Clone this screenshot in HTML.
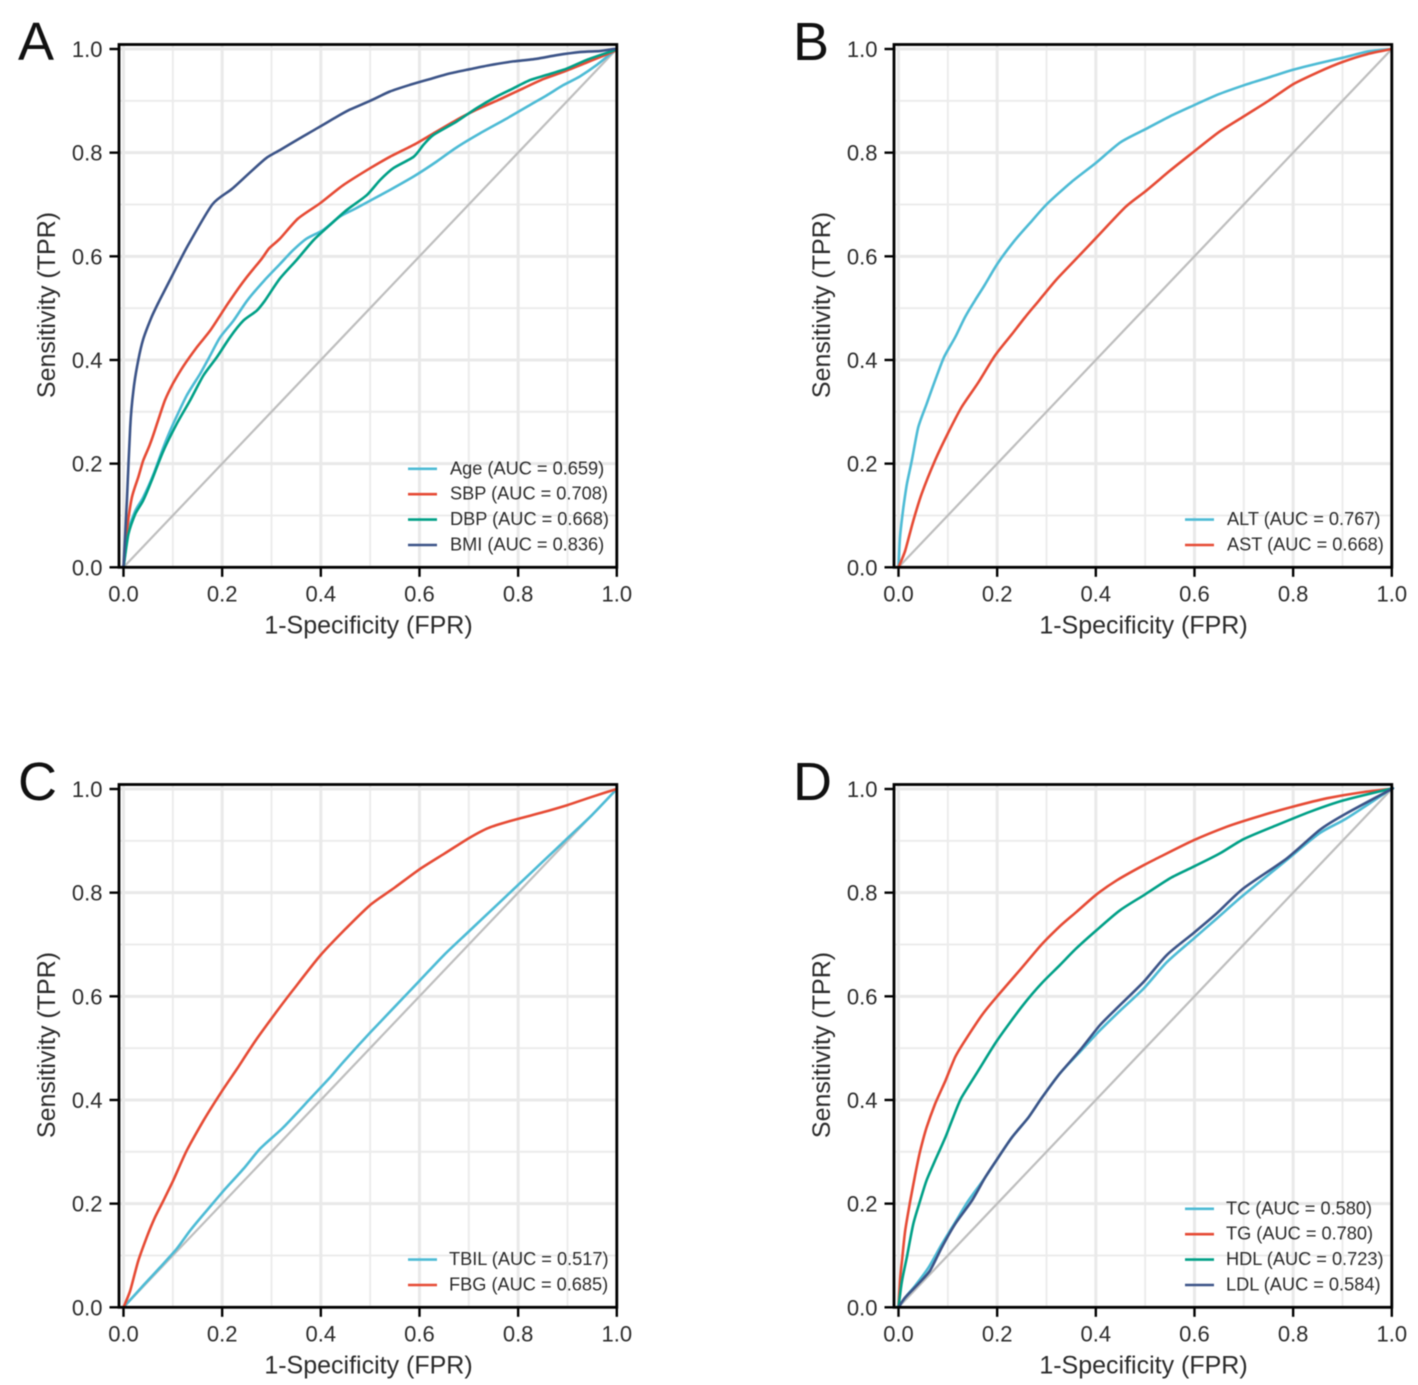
<!DOCTYPE html>
<html lang="en">
<head>
<meta charset="utf-8">
<title>ROC curves</title>
<style>
html,body{margin:0;padding:0;background:#fff;width:1418px;height:1385px;overflow:hidden}
svg{display:block;font-family:"Liberation Sans",Arial,sans-serif;filter:blur(0.45px)}
</style>
</head>
<body>
<svg id="chart" width="1418" height="1385" viewBox="0 0 1418 1385" xmlns="http://www.w3.org/2000/svg"></svg>
<script>
const tickValues = [0, 0.2, 0.4, 0.6, 0.8, 1];
const tickLabels = ['0.0', '0.2', '0.4', '0.6', '0.8', '1.0'];
const minorValues = [0.1, 0.3, 0.5, 0.7, 0.9];

const ageFpr = [0,0.01,0.024,0.04,0.061,0.081,0.101,0.128,0.155,0.176,0.196,0.223,0.251,0.285,0.317,0.344,0.371,0.405,0.439,0.472,0.54,0.588,0.635,0.675,0.722,0.777,0.824,0.857,0.891,0.925,0.959,0.993,1];
const ageTpr = [0,0.071,0.109,0.135,0.18,0.232,0.277,0.331,0.373,0.409,0.444,0.476,0.515,0.553,0.585,0.612,0.634,0.651,0.677,0.693,0.728,0.754,0.783,0.81,0.837,0.866,0.892,0.91,0.93,0.947,0.969,0.995,1];
const sbpFpr = [0,0.0068,0.017,0.03,0.04,0.054,0.068,0.084,0.1,0.122,0.149,0.176,0.2,0.216,0.25,0.28,0.295,0.317,0.354,0.398,0.445,0.5,0.54,0.588,0.628,0.675,0.716,0.763,0.81,0.851,0.892,0.939,0.993,1];
const sbpTpr = [0,0.071,0.135,0.174,0.206,0.238,0.277,0.322,0.354,0.389,0.425,0.457,0.492,0.515,0.56,0.595,0.615,0.634,0.673,0.702,0.737,0.77,0.792,0.815,0.837,0.863,0.883,0.903,0.924,0.942,0.956,0.974,0.995,1];
const dbpFpr = [0,0.01,0.024,0.04,0.057,0.081,0.108,0.135,0.162,0.189,0.216,0.243,0.27,0.287,0.317,0.35,0.385,0.418,0.452,0.493,0.52,0.547,0.588,0.608,0.628,0.675,0.716,0.756,0.79,0.824,0.858,0.898,0.939,0.993,1];
const dbpTpr = [0,0.064,0.103,0.129,0.167,0.225,0.277,0.322,0.37,0.405,0.444,0.476,0.495,0.515,0.557,0.592,0.631,0.66,0.689,0.718,0.747,0.77,0.792,0.815,0.834,0.86,0.886,0.908,0.924,0.94,0.95,0.962,0.979,0.997,1];
const bmiFpr = [0,0.0034,0.0068,0.0135,0.02,0.03,0.04,0.057,0.073,0.1,0.13,0.18,0.22,0.26,0.29,0.317,0.358,0.398,0.432,0.459,0.5,0.54,0.581,0.621,0.662,0.702,0.743,0.79,0.837,0.878,0.925,0.965,0.993,1];
const bmiTpr = [0,0.064,0.129,0.27,0.341,0.4,0.44,0.483,0.515,0.565,0.62,0.7,0.73,0.765,0.79,0.805,0.828,0.85,0.869,0.883,0.9,0.918,0.931,0.942,0.953,0.961,0.969,0.976,0.981,0.988,0.994,0.996,1,1];

const altFpr = [0,0.003,0.01,0.017,0.027,0.04,0.057,0.074,0.092,0.115,0.135,0.155,0.175,0.2,0.235,0.27,0.3,0.35,0.4,0.45,0.5,0.55,0.6,0.65,0.7,0.75,0.8,0.85,0.9,0.95,1];
const altTpr = [0,0.058,0.116,0.161,0.206,0.27,0.315,0.36,0.405,0.444,0.483,0.515,0.545,0.585,0.63,0.668,0.7,0.743,0.78,0.82,0.845,0.87,0.892,0.913,0.93,0.945,0.96,0.972,0.983,0.995,1];
const astFpr = [0,0.0135,0.03,0.047,0.074,0.101,0.128,0.162,0.196,0.23,0.257,0.285,0.32,0.36,0.4,0.46,0.5,0.55,0.6,0.65,0.7,0.75,0.8,0.85,0.9,0.95,1];
const astTpr = [0,0.032,0.09,0.142,0.206,0.26,0.309,0.357,0.409,0.45,0.483,0.515,0.555,0.595,0.635,0.695,0.725,0.765,0.803,0.84,0.87,0.9,0.932,0.955,0.975,0.99,1];

const tbilFpr = [0,0.04,0.074,0.108,0.135,0.169,0.203,0.243,0.277,0.324,0.378,0.42,0.45,0.5,0.55,0.6,0.65,0.7,0.75,0.8,0.85,0.9,0.95,1];
const tbilTpr = [0,0.042,0.077,0.113,0.148,0.187,0.225,0.267,0.306,0.347,0.402,0.445,0.478,0.53,0.58,0.63,0.68,0.725,0.77,0.815,0.86,0.905,0.95,1];
const fbgFpr = [0,0.0135,0.03,0.047,0.064,0.081,0.101,0.128,0.162,0.196,0.23,0.268,0.31,0.35,0.4,0.45,0.5,0.55,0.6,0.65,0.7,0.74,0.783,0.85,0.9,0.95,1];
const fbgTpr = [0,0.032,0.09,0.135,0.174,0.206,0.245,0.302,0.36,0.412,0.46,0.515,0.57,0.62,0.68,0.73,0.776,0.81,0.845,0.875,0.905,0.925,0.938,0.955,0.969,0.985,1];

const tcFpr = [0,0.0135,0.034,0.061,0.088,0.115,0.142,0.176,0.2,0.23,0.264,0.291,0.327,0.368,0.408,0.449,0.497,0.544,0.598,0.645,0.699,0.787,0.854,0.908,0.996,1];
const tcTpr = [0,0.019,0.042,0.077,0.122,0.164,0.206,0.251,0.286,0.328,0.367,0.405,0.451,0.493,0.534,0.572,0.615,0.666,0.711,0.75,0.795,0.863,0.915,0.943,0.998,1];
const tgFpr = [0,0.003,0.007,0.0135,0.024,0.034,0.044,0.057,0.074,0.095,0.115,0.135,0.17,0.2,0.25,0.29,0.327,0.361,0.402,0.443,0.497,0.53,0.598,0.665,0.733,0.8,0.868,0.935,0.996,1];
const tgTpr = [0,0.051,0.09,0.148,0.206,0.257,0.302,0.347,0.392,0.437,0.483,0.515,0.565,0.6,0.655,0.7,0.735,0.763,0.797,0.824,0.853,0.869,0.901,0.927,0.948,0.966,0.982,0.993,1,1];
const hdlFpr = [0,0.007,0.017,0.03,0.044,0.057,0.074,0.095,0.111,0.128,0.162,0.2,0.25,0.29,0.327,0.361,0.402,0.449,0.497,0.551,0.598,0.652,0.699,0.766,0.834,0.902,0.996,1];
const hdlTpr = [0,0.051,0.097,0.161,0.206,0.245,0.283,0.328,0.367,0.405,0.457,0.515,0.58,0.625,0.66,0.693,0.728,0.766,0.795,0.828,0.85,0.876,0.903,0.93,0.956,0.978,1,1];
const ldlFpr = [0,0.0135,0.04,0.064,0.088,0.115,0.149,0.176,0.2,0.23,0.264,0.291,0.327,0.368,0.408,0.449,0.497,0.544,0.598,0.645,0.699,0.787,0.854,0.908,0.996,1];
const ldlTpr = [0,0.019,0.045,0.071,0.116,0.161,0.206,0.251,0.286,0.328,0.367,0.405,0.451,0.496,0.544,0.583,0.628,0.68,0.722,0.76,0.808,0.866,0.921,0.953,0.998,1];

const panelALabels = ['Age (AUC = 0.659)', 'SBP (AUC = 0.708)', 'DBP (AUC = 0.668)', 'BMI (AUC = 0.836)'];
const panelBLabels = ['ALT (AUC = 0.767)', 'AST (AUC = 0.668)'];
const panelCLabels = ['TBIL (AUC = 0.517)', 'FBG (AUC = 0.685)'];
const panelDLabels = ['TC (AUC = 0.580)', 'TG (AUC = 0.780)', 'HDL (AUC = 0.723)', 'LDL (AUC = 0.584)'];
const seriesColors = ['#4DBBD5', '#E64B35', '#00A087', '#3C5488'];

const panels = [
  {id:'A', ox:0, oy:0, swatchDx:0, textDx:0, labels:panelALabels, fprs:[ageFpr,sbpFpr,dbpFpr,bmiFpr], tprs:[ageTpr,sbpTpr,dbpTpr,bmiTpr]},
  {id:'B', ox:775, oy:0, swatchDx:2, textDx:2, labels:panelBLabels, fprs:[altFpr,astFpr], tprs:[altTpr,astTpr]},
  {id:'C', ox:0, oy:740, swatchDx:0, textDx:-1, labels:panelCLabels, fprs:[tbilFpr,fbgFpr], tprs:[tbilTpr,fbgTpr]},
  {id:'D', ox:775, oy:740, swatchDx:2, textDx:1, labels:panelDLabels, fprs:[tcFpr,tgFpr,hdlFpr,ldlFpr], tprs:[tcTpr,tgTpr,hdlTpr,ldlTpr]}
];

const svg = document.getElementById('chart');
const NS = 'http://www.w3.org/2000/svg';

function make(parent, tag, attrs, text) {
  const el = document.createElementNS(NS, tag);
  for (const k in attrs) el.setAttribute(k, attrs[k]);
  if (text !== undefined) el.textContent = text;
  parent.appendChild(el);
  return el;
}

function smoothPath(pts) {
  const k = 0.12;
  let d = 'M' + pts[0][0].toFixed(1) + ' ' + pts[0][1].toFixed(1);
  for (let i = 0; i < pts.length - 1; i++) {
    const a = pts[Math.max(i - 1, 0)], b = pts[i], c = pts[i + 1], e = pts[Math.min(i + 2, pts.length - 1)];
    const c1x = b[0] + (c[0] - a[0]) * k, c1y = b[1] + (c[1] - a[1]) * k;
    const c2x = c[0] - (e[0] - b[0]) * k, c2y = c[1] - (e[1] - b[1]) * k;
    d += 'C' + c1x.toFixed(1) + ' ' + c1y.toFixed(1) + ' ' + c2x.toFixed(1) + ' ' + c2y.toFixed(1) + ' ' + c[0].toFixed(1) + ' ' + c[1].toFixed(1);
  }
  return d;
}

panels.forEach(function (p) {
  const xScale = function (v) { return p.ox + 123.5 + v * 493.3; };
  const yScale = function (v) { return p.oy + 567.3 - v * 518.3; };
  const left = p.ox + 119, top = p.oy + 44.5, right = xScale(1), bottom = yScale(0);

  const g = make(svg, 'g', {});
  
  

  const letter = make(g, 'text', {x: p.ox + 18, y: p.oy + 60, 'font-size': 54, fill: '#111'}, p.id);
  
  

  minorValues.forEach(function (v) {
    const gx = make(g, 'line', {x1: xScale(v), x2: xScale(v), y1: top, y2: bottom, stroke: '#ececec', 'stroke-width': 2});
    
    
    const gy = make(g, 'line', {x1: left, x2: right, y1: yScale(v), y2: yScale(v), stroke: '#ececec', 'stroke-width': 2});
    
    
  });
  tickValues.forEach(function (v) {
    const gx = make(g, 'line', {x1: xScale(v), x2: xScale(v), y1: top, y2: bottom, stroke: '#e9e9e9', 'stroke-width': 3});
    
    
    const gy = make(g, 'line', {x1: left, x2: right, y1: yScale(v), y2: yScale(v), stroke: '#e9e9e9', 'stroke-width': 3});
    
    
  });

  const diag = make(g, 'line', {x1: xScale(0), y1: yScale(0), x2: xScale(1), y2: yScale(1), stroke: '#bebebe', 'stroke-width': 2.2});
  
  

  p.fprs.forEach(function (fpr, i) {
    const pts = fpr.map(function (v, j) {
      return [xScale(v), yScale(p.tprs[i][j])];
    });
    const curve = make(g, 'path', {d: smoothPath(pts), fill: 'none', stroke: seriesColors[i], 'stroke-width': 2.6, 'stroke-linejoin': 'round'});
    
    
  });

  const frame = make(g, 'rect', {x: left, y: top, width: right - left, height: bottom - top, fill: 'none', stroke: '#000', 'stroke-width': 2.8});
  
  

  tickValues.forEach(function (v, i) {
    const tx = make(g, 'line', {x1: xScale(v), x2: xScale(v), y1: bottom, y2: bottom + 9.5, stroke: '#000', 'stroke-width': 2.4});
    
    
    const ty = make(g, 'line', {x1: left, x2: left - 9.5, y1: yScale(v), y2: yScale(v), stroke: '#000', 'stroke-width': 2.4});
    
    
    const lx = make(g, 'text', {x: xScale(v), y: bottom + 34, 'text-anchor': 'middle', 'font-size': 22, fill: '#2b2b2b'}, tickLabels[i]);
    
    
    const ly = make(g, 'text', {x: left - 16.5, y: yScale(v) + 8, 'text-anchor': 'end', 'font-size': 22, fill: '#2b2b2b'}, tickLabels[i]);
    
    
  });

  const xt = make(g, 'text', {x: p.ox + 368.5, y: p.oy + 633.5, 'text-anchor': 'middle', 'font-size': 25, fill: '#2b2b2b'}, '1-Specificity (FPR)');
  
  
  const yt = make(g, 'text', {x: 0, y: 0, 'text-anchor': 'middle', 'font-size': 25, fill: '#2b2b2b', transform: 'translate(' + (p.ox + 55) + ' ' + (p.oy + 305) + ') rotate(-90)'}, 'Sensitivity (TPR)');
  
  

  const n = p.labels.length;
  p.labels.forEach(function (label, i) {
    const ly = p.oy + 545 - (n - 1 - i) * 25.4;
    const sw = make(g, 'line', {x1: p.ox + 408 + p.swatchDx, x2: p.ox + 437 + p.swatchDx, y1: ly, y2: ly, stroke: seriesColors[i], 'stroke-width': 2.6});
    
    
    const tx = make(g, 'text', {x: p.ox + 450 + p.textDx, y: ly + 5.5, 'font-size': 18.2, fill: '#2b2b2b'}, label);
    
    
  });
});
</script>
</body>
</html>
